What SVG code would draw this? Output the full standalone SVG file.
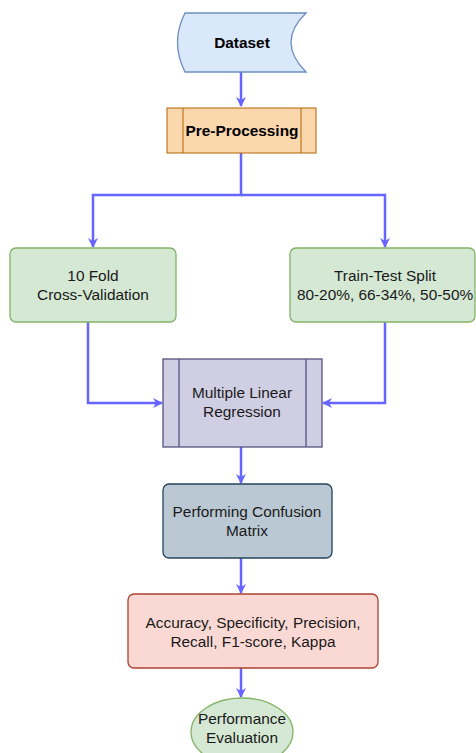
<svg xmlns="http://www.w3.org/2000/svg" width="476" height="753" viewBox="0 0 476 753">
<defs>
<marker id="arr" viewBox="0 0 10 10" refX="9" refY="5" markerWidth="10" markerHeight="10" markerUnits="userSpaceOnUse" orient="auto">
<path d="M0,0 L10,5 L0,10 L3,5 Z" fill="#6666ff"/>
</marker>
<style>
.t{font-family:"Liberation Sans",Arial,sans-serif;font-size:15.4px;fill:#1a1a1a;text-anchor:middle}
.b{font-weight:bold;fill:#000}
.e{fill:none;stroke:#6666ff;stroke-width:2.5}
</style>
</defs>
<rect width="476" height="753" fill="#ffffff"/>
<g id="edges">
<path class="e" d="M241,72 V106" marker-end="url(#arr)"/>
<path class="e" d="M241,153 V195 H93 V247" marker-end="url(#arr)"/>
<path class="e" d="M241,195 H385 V247" marker-end="url(#arr)"/>
<path class="e" d="M88,322 V403 H162" marker-end="url(#arr)"/>
<path class="e" d="M385,322 V403 H323" marker-end="url(#arr)"/>
<path class="e" d="M241,447 V483" marker-end="url(#arr)"/>
<path class="e" d="M241,558 V593" marker-end="url(#arr)"/>
<path class="e" d="M241,668 V697" marker-end="url(#arr)"/>
</g>
<g id="dataset">
<path d="M185,13 L306,13 Q276,42 306,72 L185,72 Q170,42 185,13 Z" fill="#dae8fc" stroke="#6c8ebf" stroke-width="1.3"/>
<text class="t b" x="242" y="48">Dataset</text>
</g>
<g id="preprocessing">
<rect x="167" y="108" width="149" height="45" fill="#fad7ac" stroke="#b46504" stroke-width="1"/>
<line x1="183" y1="108" x2="183" y2="153" stroke="#b46504"/>
<line x1="301" y1="108" x2="301" y2="153" stroke="#b46504"/>
<text class="t b" x="242" y="136">Pre-Processing</text>
</g>
<g id="kfold">
<rect x="10" y="248" width="166" height="74" rx="6" fill="#d5e8d4" stroke="#82b366" stroke-width="1.3"/>
<text class="t" x="93" y="281">10 Fold</text>
<text class="t" x="93" y="300">Cross-Validation</text>
</g>
<g id="split">
<rect x="290" y="248" width="185" height="74" rx="6" fill="#d5e8d4" stroke="#82b366" stroke-width="1.3"/>
<text class="t" x="385" y="281">Train-Test Split</text>
<text class="t" x="385" y="300">80-20%, 66-34%, 50-50%</text>
</g>
<g id="mlr">
<rect x="163" y="359" width="159" height="88" fill="#d0cee2" stroke="#56517e" stroke-width="1.3"/>
<line x1="179" y1="359" x2="179" y2="447" stroke="#56517e" stroke-width="1.3"/>
<line x1="306" y1="359" x2="306" y2="447" stroke="#56517e" stroke-width="1.3"/>
<text class="t" x="242" y="398">Multiple Linear</text>
<text class="t" x="242" y="417">Regression</text>
</g>
<g id="confusion">
<rect x="163" y="484" width="169" height="74" rx="6" fill="#bac8d3" stroke="#23445d" stroke-width="1.3"/>
<text class="t" x="247" y="517">Performing Confusion</text>
<text class="t" x="247" y="536">Matrix</text>
</g>
<g id="metrics">
<rect x="128" y="594" width="250" height="74" rx="6" fill="#fad9d5" stroke="#ae4132" stroke-width="1.3"/>
<text class="t" x="253" y="628">Accuracy, Specificity, Precision,</text>
<text class="t" x="253" y="647">Recall, F1-score, Kappa</text>
</g>
<g id="evaluation">
<ellipse cx="242" cy="732" rx="51" ry="34" fill="#d5e8d4" stroke="#82b366" stroke-width="1.3"/>
<text class="t" x="242" y="724">Performance</text>
<text class="t" x="242" y="743">Evaluation</text>
</g>
</svg>
